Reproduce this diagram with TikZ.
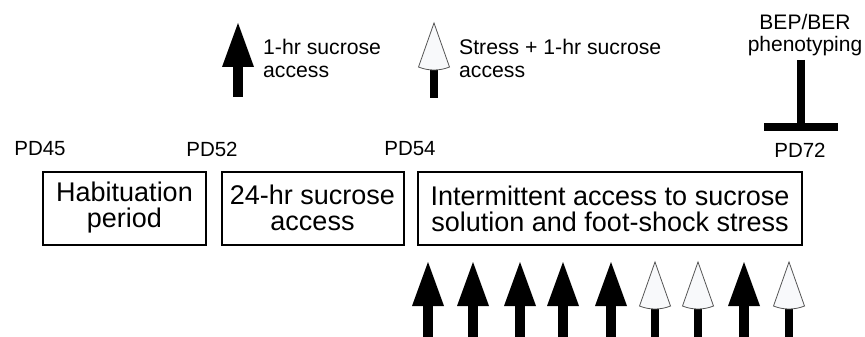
\documentclass[tikz,border=0pt]{standalone}
\usepackage{fontspec}
\setmainfont{Liberation Sans}
\definecolor{conefill}{HTML}{F8F9FB}
\definecolor{coneedge}{HTML}{555555}
\tikzset{
  phase/.style={draw, line width=2pt, inner sep=0pt, minimum height=73pt,
    align=center, font=\fontsize{27}{26}\selectfont},
  daylabel/.style={inner sep=0pt, font=\fontsize{20.5}{24}\selectfont},
  legendtext/.style={inner sep=0pt, anchor=west, align=left,
    font=\fontsize{21.2}{23}\selectfont},
  pics/sucrose/.style={code={
    % solid arrow: 1-hr sucrose access (tip at the origin)
    \fill (-16,44) -- (0,0) -- (16,44) -- cycle;
    \fill (-5,43) rectangle (5,#1);
  }},
  pics/stress/.style={code={
    % open cone on a thin stem: stress + 1-hr sucrose access
    \fill (-4,44) rectangle (4,#1);
    \draw[coneedge, fill=conefill, line width=0.8pt]
      (0,0) -- (15.5,44) .. controls (6,48) and (-6,48) .. (-15.5,44) -- cycle;
  }},
}
\begin{document}
\begin{tikzpicture}[x=1pt, y=-1pt]
\useasboundingbox (0,0) rectangle (865,337);

% legend
\pic at (238,23) {sucrose=74};
\node[legendtext] (leg1) at (263,58) {1-hr sucrose\\access};
\pic at (434,23) {stress=75};
\node[legendtext] (leg2) at (459,58) {Stress + 1-hr sucrose\\access};

% phenotyping marker
\node[inner sep=0pt, align=center, font=\fontsize{21}{22}\selectfont] (pheno) at (805,35) {BEP/BER\\phenotyping};
\coordinate (tTop) at (801,60);
\coordinate (tBase) at (801,127);
\coordinate (barL) at (764,127);
\coordinate (barR) at (838,127);
\draw[line width=8pt] (tTop) -- (tBase);
\draw[line width=8pt] (barL) -- (barR);

% day labels
\node[daylabel] (pd45) at (40,149) {PD45};
\node[daylabel] (pd52) at (212,149) {PD52};
\node[daylabel] (pd54) at (410,149) {PD54};
\node[daylabel] (pd72) at (800,150) {PD72};

% experimental phases
\node[phase, minimum width=163pt] (hab) at (124.5,208) {Habituation\\period};
\node[phase, minimum width=182pt] (free) at (312.5,208) {24-hr sucrose\\access};
\node[phase, minimum width=384pt] (inter) at (610,208.5) {Intermittent access to sucrose\\solution and foot-shock stress};

% daily sessions
\foreach \x in {428,473,520,563,611,744} \pic at (\x,262) {sucrose=75};
\foreach \x in {655,698,789} \pic at (\x,262) {stress=75};
\end{tikzpicture}
\end{document}
